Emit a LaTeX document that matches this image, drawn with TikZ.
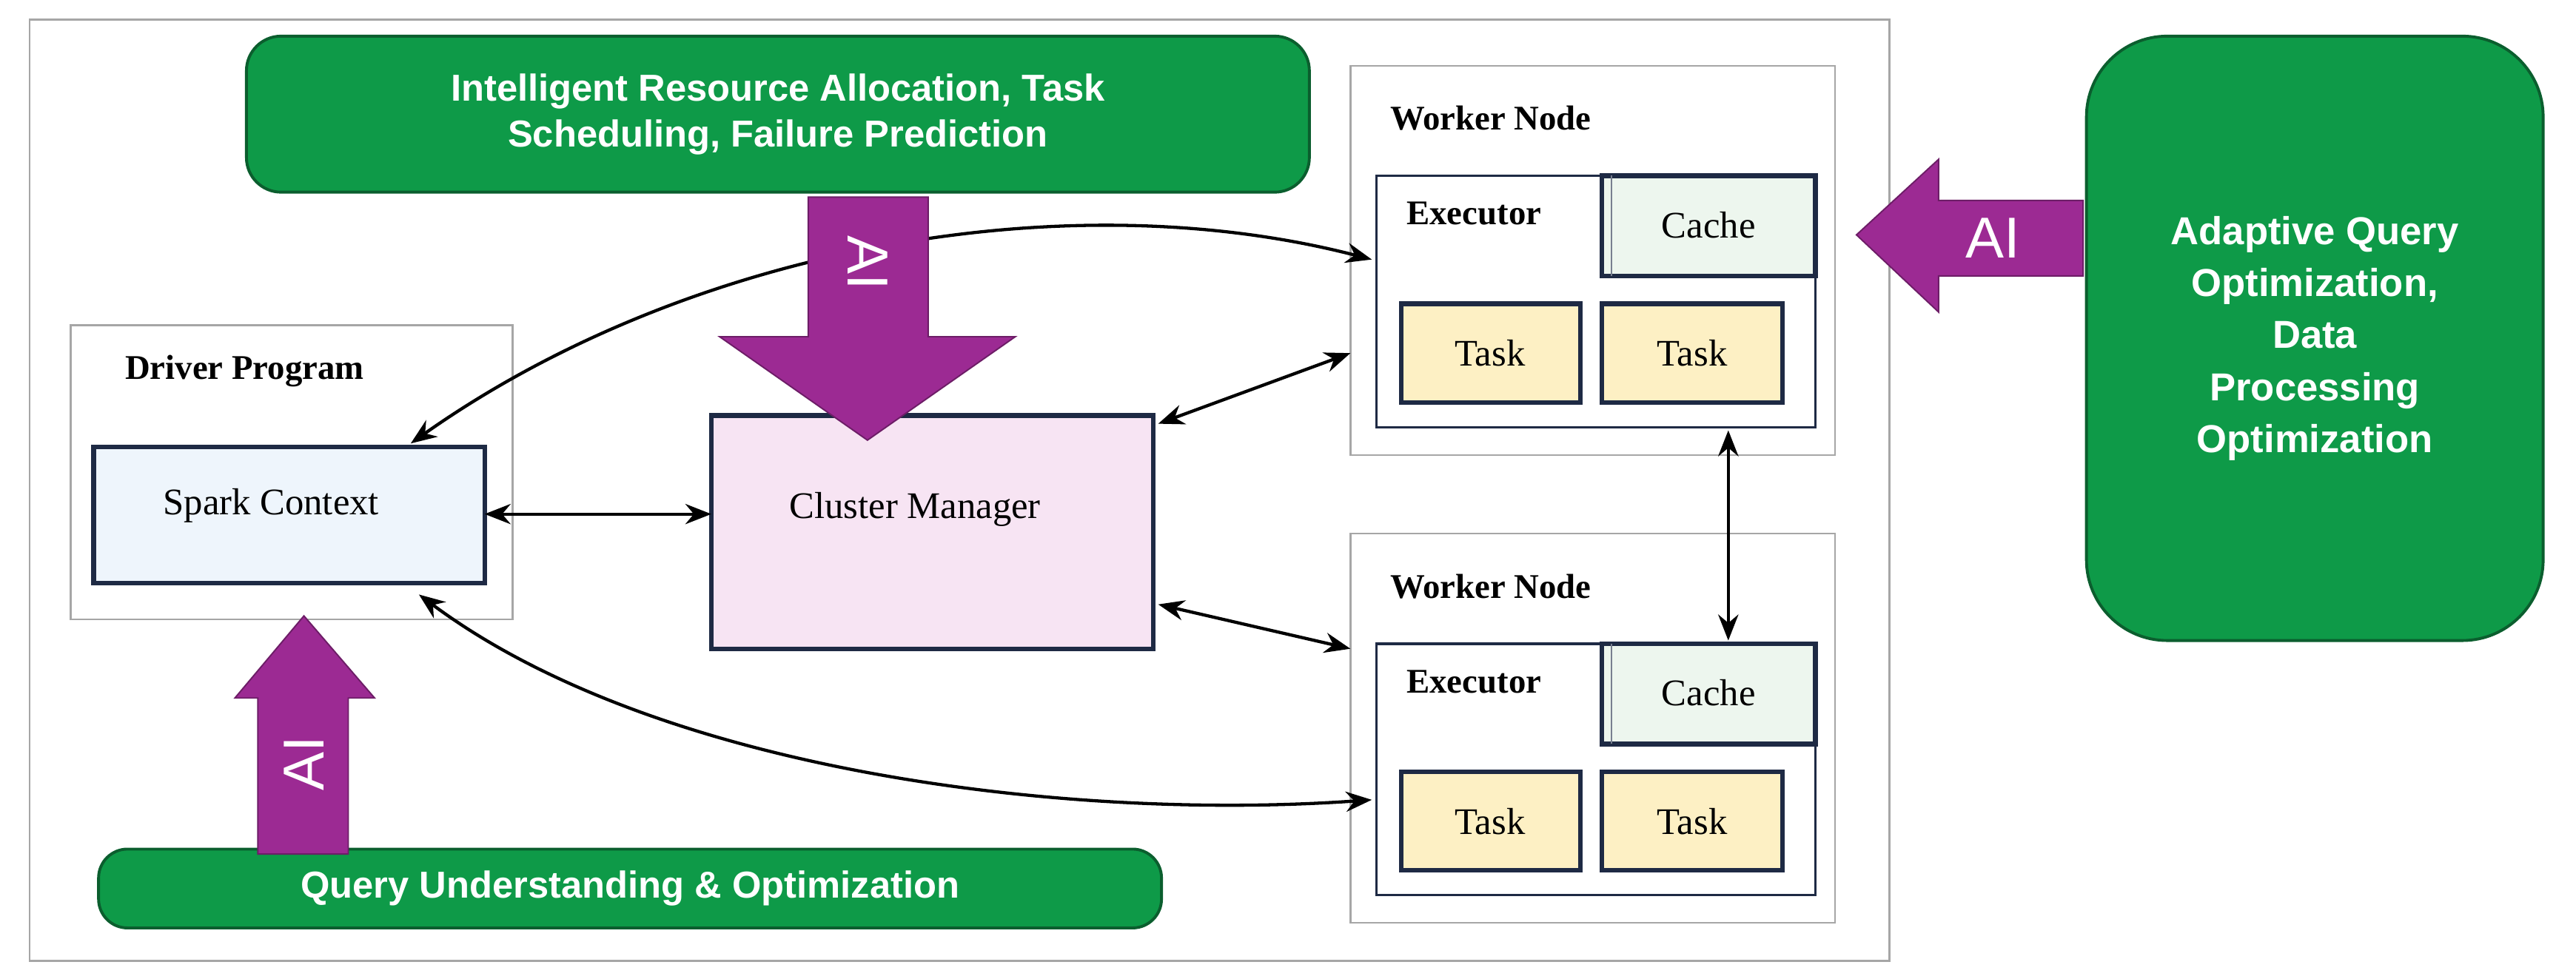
\documentclass[tikz,border=0pt]{standalone}
\usepackage{fontspec}
\setmainfont{Liberation Serif}
\newfontfamily\sansb{Liberation Sans}
\usetikzlibrary{arrows.meta}
\definecolor{gfill}{HTML}{0E9A48}
\definecolor{gdraw}{HTML}{0B5E2E}
\definecolor{navy}{HTML}{1E2A44}
\definecolor{purp}{HTML}{9C2A93}
\definecolor{blu}{HTML}{EEF5FC}
\definecolor{pnk}{HTML}{F7E4F3}
\definecolor{cgr}{HTML}{EDF6EE}
\definecolor{tsk}{HTML}{FDF0C4}
\begin{document}
\begin{tikzpicture}[x=0.02cm,y=-0.02cm,
  green/.style={draw=gdraw,line width=1pt,fill=gfill},
  gtext/.style={text=white,font=\sansb\bfseries\fontsize{13}{16}\selectfont,align=center},
  frame/.style={draw=gray!70,line width=0.6pt},
  inner/.style={draw=navy,line width=1.6pt},
  lab/.style={font=\bfseries\fontsize{12}{14}\selectfont,anchor=west},
  tlab/.style={font=\fontsize{13}{15}\selectfont},
  con/.style={line width=1.1pt,{Stealth[length=9pt,width=7pt]}-{Stealth[length=9pt,width=7pt]}},
  ai/.style={fill=purp,draw=purp!70!black,line width=0.5pt},
  aitext/.style={text=white,font=\sansb\fontsize{20}{22}\selectfont}]
\useasboundingbox (0,0) rectangle (1568,596);
\draw[frame] (18,12) rectangle (1150,585);
% green boxes
\draw[green,rounded corners=12pt] (150,22) rectangle (797,117);
\node[gtext] (toptxt) at (473.5,69.5) {Intelligent Resource Allocation, Task\\Scheduling, Failure Prediction};
\draw[green,rounded corners=28pt] (1270,22) rectangle (1548,390);
\node[gtext,font=\sansb\bfseries\fontsize{13.5}{18}\selectfont] (righttxt) at (1409,206) {Adaptive Query\\Optimization,\\Data\\Processing\\Optimization};
\draw[green,rounded corners=10pt] (60,517) rectangle (707,565);
\node[gtext] (bottxt) at (383.5,541) {Query Understanding \& Optimization};
% driver
\draw[frame] (43,198) rectangle (312,377);
\node[lab] (dlab) at (70,226) {Driver Program};
\draw[inner,fill=blu] (57,272) rectangle (295,355);
\node[tlab] (sc) at (165,308) {Spark Context};
\coordinate (scR) at (295,313);
% cluster manager
\draw[inner,fill=pnk] (433,253) rectangle (702,395);
\node[tlab] (cm) at (557,310) {Cluster Manager};
\coordinate (cmL) at (433,313);
% worker nodes
\foreach \dy/\n in {0/1,285/2}{
 \draw[frame] (822,40+\dy) rectangle (1117,277+\dy);
 \node[lab] (wl\n) at (840,72+\dy) {Worker Node};
 \draw[draw=navy,line width=0.8pt] (838,107+\dy) rectangle (1105,260+\dy);
 \node[lab] (ex\n) at (850,130+\dy) {Executor};
 \draw[inner,fill=cgr] (975,107+\dy) rectangle (1105,168+\dy);
 \draw[draw=navy!60,line width=0.5pt] (981,107+\dy) -- (981,168+\dy);
 \node[tlab] (ca\n) at (1040,137+\dy) {Cache};
 \draw[inner,fill=tsk] (853,185+\dy) rectangle (962,245+\dy);
 \node[tlab] (ta\n) at (907,215+\dy) {Task};
 \draw[inner,fill=tsk] (975,185+\dy) rectangle (1085,245+\dy);
 \node[tlab] (tb\n) at (1030,215+\dy) {Task};
}
% connectors
\coordinate (cmA) at (705,258); \coordinate (w1A) at (822,215);
\coordinate (cmB) at (705,368); \coordinate (w2A) at (822,395);
\coordinate (w1B) at (1052,262); \coordinate (w2B) at (1052,390);
\coordinate (w1C) at (835,158); \coordinate (dA) at (250,270);
\coordinate (dB) at (255,362); \coordinate (w2C) at (835,487);
\draw[con] (scR) -- (cmL);
\draw[con] (cmA) -- (w1A);
\draw[con] (cmB) -- (w2A);
\draw[con] (w1B) -- (w2B);
\draw[con] (dA) .. controls (420,150) and (650,110) .. (w1C);
\draw[con] (dB) .. controls (400,470) and (650,500) .. (w2C);
% AI arrows
\draw[ai] (492,120) -- (565,120) -- (565,205) -- (618,205) -- (528,268) -- (438,205) -- (492,205) -- cycle;
\node[aitext,rotate=-90] (ai1) at (528,160) {AI};
\draw[ai] (157,520) -- (212,520) -- (212,425) -- (228,425) -- (185,375) -- (143,425) -- (157,425) -- cycle;
\node[aitext,rotate=90] (ai2) at (185,465) {AI};
\draw[ai] (1268,122) -- (1180,122) -- (1180,97) -- (1130,143) -- (1180,190) -- (1180,168) -- (1268,168) -- cycle;
\node[aitext] (ai3) at (1213,145) {AI};
\end{tikzpicture}
\end{document}
